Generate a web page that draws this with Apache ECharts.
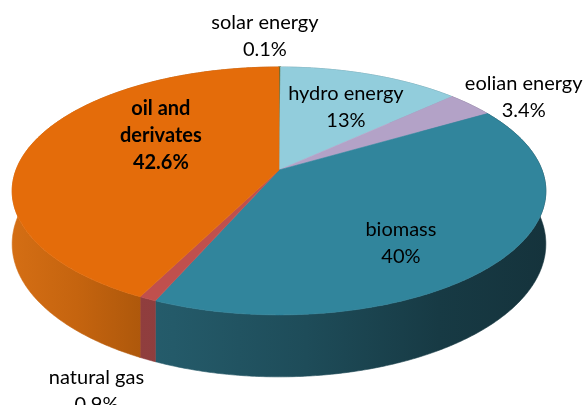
<!DOCTYPE html>
<html><head><meta charset="utf-8">
<script src="https://cdn.jsdelivr.net/npm/echarts@6/dist/echarts.min.js"></script>
<style>html,body{margin:0;padding:0;background:#fff}#c{width:583px;height:405px}</style>
</head><body><div id="c"></div>
<script>
// ---- data ----
const categories = ['solar energy', 'hydro energy', 'eolian energy', 'biomass', 'natural gas', 'oil and derivates'];
const labelNames = ['solar energy', 'hydro energy', 'eolian energy', 'biomass', 'natural gas', 'oil and\nderivates'];
const values = [0.1, 13, 3.4, 40, 0.9, 42.6];
const valueLabels = ['0.1%', '13%', '3.4%', '40%', '0.9%', '42.6%'];

// ---- styles ----
const topColors = ['#4F6228', '#92CDDC', '#B3A2C7', '#31859C', '#C0504D', '#E46C0A'];
const sideStops = [
  [[0, '#3A4A1E'], [1, '#2A3615']],
  [[0, '#6E9AA6'], [1, '#567C86']],
  [[0, '#877A97'], [1, '#6B607A']],
  [[0, '#2A6676'], [0.3, '#245A69'], [0.55, '#1E4C59'], [0.8, '#173A44'], [1, '#15333C']],
  [[0, '#934040'], [1, '#853737']],
  [[0, '#D46E14'], [0.12, '#C5640F'], [0.25, '#AC570B'], [1, '#9A4E0A']]
];
const boldLabel = [false, false, false, false, false, true];
// label placement: radius factor along mid-angle plus pixel nudge
const labelLayout = [
  { r: 1.37, dx: -15, dy: 0 },
  { r: 0.70, dx: 0, dy: 7 },
  { r: 1.315, dx: 0, dy: 11 },
  { r: 0.578, dx: 0, dy: 24 },
  { r: 1.30, dx: -2, dy: 44 },
  { r: 0.47, dx: 0, dy: -22 }
];
const geom = { cx: 279, cy: 170, a: 263, b: 120.4, k: 0.169, depth: 51.5, x0: 13, x1: 546 };

const total = values.reduce((s, v) => s + v, 0);
const starts = [];
values.reduce((acc, v, i) => { starts[i] = acc; return acc + v; }, 0);

function proj(theta, r, h) {
  const u = r * Math.sin(theta), v = -r * Math.cos(theta);
  const w = 1 - geom.k * v;
  return [geom.cx + geom.a * u / w, geom.cy + geom.b * v / w + (h || 0) / w];
}
function rimPoints(t1, t2, h) {
  const n = Math.max(2, Math.ceil((t2 - t1) / (Math.PI / 360)));
  const pts = [];
  for (let j = 0; j <= n; j++) pts.push(proj(t1 + (t2 - t1) * j / n, 1, h));
  return pts;
}

const chart = echarts.init(document.getElementById('c'), null, { renderer: 'canvas' });
chart.setOption({
  animation: false,
  series: [{
    type: 'custom',
    coordinateSystem: 'none',
    data: values.map((v, i) => [i, v]),
    renderItem: function (params, api) {
      const i = params.dataIndex;
      const t1 = starts[i] / total * 2 * Math.PI;
      const t2 = (starts[i] + values[i]) / total * 2 * Math.PI;
      const topRim = rimPoints(t1, t2, 0);
      const botRim = rimPoints(t1, t2, geom.depth).reverse();
      const grad = {
        type: 'linear', x: geom.x0, y: 0, x2: geom.x1, y2: 0, global: true,
        colorStops: sideStops[i].map(s => ({ offset: s[0], color: s[1] }))
      };
      const mid = (t1 + t2) / 2;
      const L = labelLayout[i];
      const lp = proj(mid, L.r, 0);
      return {
        type: 'group',
        children: [
          { type: 'polygon', z2: 1, shape: { points: topRim.concat(botRim) },
            style: { fill: grad, stroke: grad, lineWidth: 0.6 } },
          { type: 'polygon', z2: 10, shape: { points: [[geom.cx, geom.cy]].concat(topRim) },
            style: { fill: topColors[i], stroke: topColors[i], lineWidth: i === 0 ? 1.2 : 0.6 } },
          { type: 'text', z2: 20, x: lp[0] + L.dx, y: lp[1] + L.dy,
            style: { text: labelNames[i] + '\n' + valueLabels[i], fill: '#000',
              font: (boldLabel[i] ? 'bold ' : '') + '20px Lato', lineHeight: 27,
              align: 'center', verticalAlign: 'middle' } }
        ]
      };
    }
  }]
});
</script></body></html>
